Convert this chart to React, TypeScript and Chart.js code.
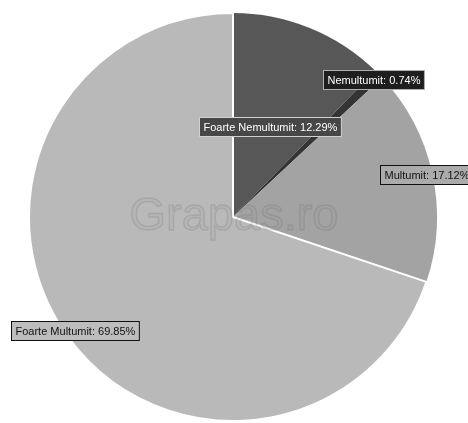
import React, { useEffect, useRef } from "react";
import { Chart, registerables } from "chart.js";

Chart.register(...registerables);

const categories = ["Foarte Nemultumit", "Nemultumit", "Multumit", "Foarte Multumit"];
const values = [12.29, 0.74, 17.12, 69.85];
const sliceColors = ["#575757", "#343434", "#a3a3a3", "#b9b9b9"];
const watermark = "Grapas.ro";

// label box styles per slice
const labelStyles = [
  { r: 0.48, bg: "#474747", fg: "#ffffff", border: "#d0d0d0" },
  { r: 0.965, bg: "#1e1e1e", fg: "#ffffff", border: "#b0b0b0" },
  { r: 0.97, bg: "#ababab", fg: "#111111", border: "#111111" },
  { r: 0.955, bg: "#bdbdbd", fg: "#111111", border: "#111111" },
];

const labelPlugin = {
  id: "sliceLabels",
  afterDatasetsDraw(chart: any) {
    const ctx = chart.ctx;
    const meta = chart.getDatasetMeta(0);
    const first = meta.data[0];
    const cx = first.x;
    const cy = first.y;
    // watermark
    ctx.save();
    ctx.font = "47px 'Liberation Sans', Arial, sans-serif";
    ctx.textAlign = "center";
    ctx.textBaseline = "middle";
    ctx.fillStyle = "rgba(150,150,150,0.1)";
    ctx.fillText(watermark, cx + 1, cy);
    ctx.strokeStyle = "rgba(90,90,90,0.16)";
    ctx.lineWidth = 1.5;
    ctx.strokeText(watermark, cx + 1, cy);
    ctx.restore();

    meta.data.forEach((arc: any, i: number) => {
      const p = arc.getProps(["x", "y", "startAngle", "endAngle", "outerRadius"], true);
      const mid = (p.startAngle + p.endAngle) / 2;
      const st = labelStyles[i];
      const r = p.outerRadius * st.r;
      const x = p.x + Math.cos(mid) * r;
      const y = p.y + Math.sin(mid) * r;
      const text = `${categories[i]}: ${values[i].toFixed(2)}%`;
      ctx.save();
      ctx.font = "11px 'Liberation Sans', Arial, sans-serif";
      const w = ctx.measureText(text).width + 8;
      const h = 19;
      const bx = Math.round(x - w / 2) + 0.5;
      const by = Math.round(y - h / 2) + 0.5;
      ctx.fillStyle = st.bg;
      ctx.fillRect(bx, by, w, h);
      ctx.strokeStyle = st.border;
      ctx.lineWidth = 1;
      ctx.strokeRect(bx, by, w, h);
      ctx.fillStyle = st.fg;
      ctx.textAlign = "left";
      ctx.textBaseline = "middle";
      ctx.fillText(text, bx + 4, by + h / 2 + 0.5);
      ctx.restore();
    });
  },
};

export default function App() {
  const ref = useRef<HTMLCanvasElement | null>(null);
  useEffect(() => {
    if (!ref.current) return;
    const chart = new Chart(ref.current, {
      type: "pie",
      data: {
        labels: categories,
        datasets: [
          {
            data: values,
            backgroundColor: sliceColors,
            borderColor: "#ffffff",
            borderWidth: [0, 0, 0, 2],
          },
        ],
      },
      options: {
        responsive: false,
        animation: false,
        layout: { padding: { left: 28, right: 30, top: 12, bottom: 1 } },
        plugins: {
          legend: { display: false },
          tooltip: { enabled: false },
          title: { display: false },
        },
      },
      plugins: [labelPlugin],
    });
    return () => chart.destroy();
  }, []);
  return (
    <div style={{ position: "fixed", left: 0, top: 0, width: 468, height: 423, background: "#ffffff" }}>
      <canvas ref={ref} width={468} height={423} />
    </div>
  );
}
